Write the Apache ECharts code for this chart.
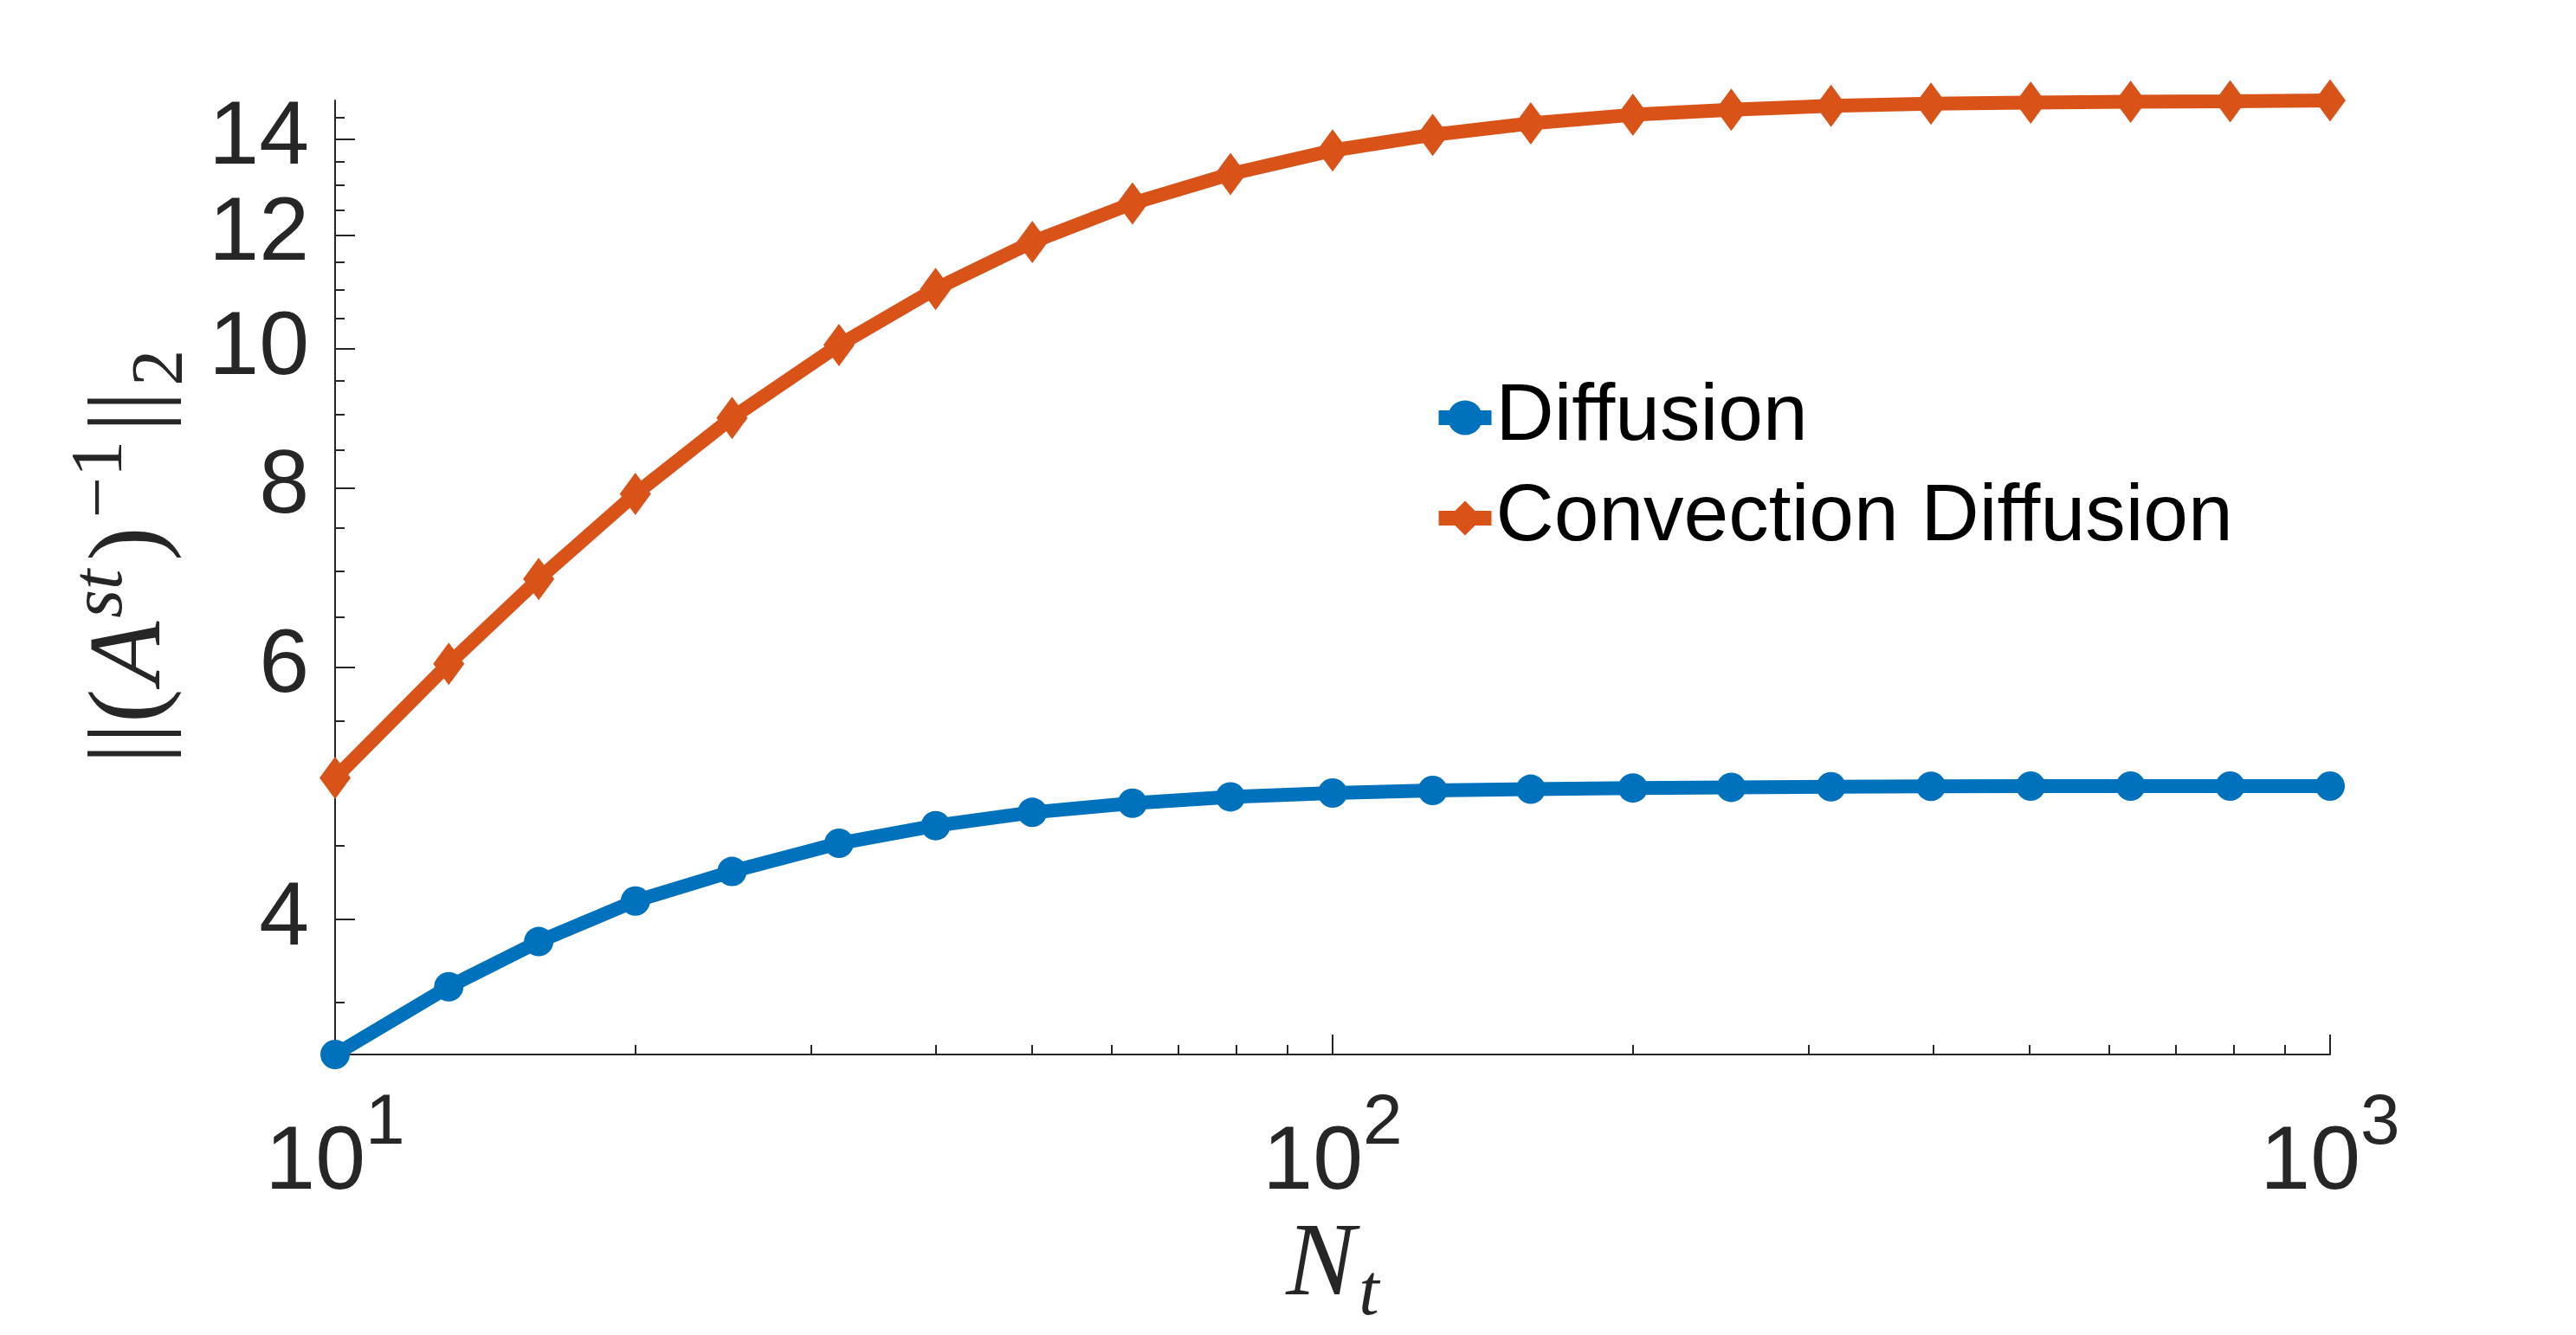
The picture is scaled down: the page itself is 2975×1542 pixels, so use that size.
<!DOCTYPE html>
<html>
<head>
<meta charset="utf-8">
<script src="https://cdn.jsdelivr.net/npm/echarts@6.0.0/dist/echarts.min.js"></script>
<style>
html, body { margin: 0; padding: 0; background: #fff; }
#chart { width: 2975px; height: 1542px; }
</style>
</head>
<body>
<div id="chart"></div>
<script>
// Nt values (round(logspace(1,3,21)))
var nt = [10, 13, 16, 20, 25, 32, 40, 50, 63, 79, 100, 126, 158, 200, 251, 316, 398, 501, 631, 794, 1000];
// ||(A^st)^-1||_2
var diffusion = [3.22, 3.59, 3.86, 4.12, 4.32, 4.52, 4.65, 4.75, 4.82, 4.87, 4.90, 4.92, 4.93, 4.94, 4.945, 4.95, 4.953, 4.955, 4.955, 4.955, 4.955];
var convDiffusion = [5.02, 6.03, 6.91, 7.92, 8.95, 10.06, 11.01, 11.87, 12.63, 13.24, 13.75, 14.10, 14.36, 14.56, 14.68, 14.77, 14.82, 14.85, 14.87, 14.88, 14.90];
var seriesNames = ['Diffusion', 'Convection Diffusion'];
// tick values
var xMajorTicks = [10, 100, 1000];
var xMinorTicks = [20, 30, 40, 50, 60, 70, 80, 90, 200, 300, 400, 500, 600, 700, 800, 900];
var yMajorTicks = [4, 6, 8, 10, 12, 14];
var yMinorTicks = [3.5, 4.5, 5, 5.5, 6.5, 7, 7.5, 8.5, 9, 9.5, 10.5, 11, 11.5, 12.5, 13, 13.5, 14.5];

var axisColor = '#262626';
var sans = '"Liberation Sans", Arial, sans-serif';
var serif = '"Liberation Serif", "Times New Roman", serif';

function pairs(xs, ys) {
	var out = [];
	for (var i = 0; i < xs.length; i++) {
		out.push([xs[i], ys[i]]);
	}
	return out;
}

var yMin = Math.min.apply(null, diffusion);
var yMax = Math.max.apply(null, convDiffusion);

var mychart = echarts.init(document.getElementById('chart'));

var option = {
	animation: false,
	backgroundColor: '#fff',
	grid: {
		left: 387,
		right: 284,
		top: 116,
		bottom: 324,
		outerBoundsMode: 'none'
	},
	legend: {
		data: seriesNames,
		orient: 'vertical',
		left: 1653,
		top: 436,
		padding: 0,
		itemWidth: 61,
		itemHeight: 50,
		itemGap: 23,
		lineStyle: { width: 17 },
		textStyle: {
			fontFamily: sans,
			fontSize: 93,
			lineHeight: 92,
			color: '#000'
		}
	},
	xAxis: [{
		type: 'log',
		logBase: 10,
		min: 10,
		max: 1000,
		position: 'bottom',
		name: '{i|N}{sub|t}',
		nameLocation: 'middle',
		nameGap: 170,
		nameTextStyle: {
			rich: {
				i: { fontFamily: serif, fontStyle: 'italic', fontSize: 120, lineHeight: 150, color: axisColor },
				sub: { fontFamily: serif, fontStyle: 'italic', fontSize: 84, lineHeight: 96, verticalAlign: 'bottom', padding: [0, 0, 0, 4], color: axisColor }
			}
		},
		axisLine: { show: true, lineStyle: { color: axisColor, width: 2 } },
		axisTick: { show: true, inside: true, length: 23, customValues: xMajorTicks, lineStyle: { color: axisColor, width: 2 } },
		axisLabel: {
			customValues: xMajorTicks,
			margin: 39,
			formatter: function (v) {
				var e = Math.round(Math.log(v) / Math.LN10);
				return '{b|10}{s|' + e + '}';
			},
			rich: {
				b: { fontFamily: sans, fontSize: 104, lineHeight: 175, color: axisColor },
				s: { fontFamily: sans, fontSize: 82, lineHeight: 82, verticalAlign: 'top', color: axisColor }
			}
		},
		splitLine: { show: false }
	}, {
		// minor ticks only
		type: 'log',
		logBase: 10,
		min: 10,
		max: 1000,
		position: 'bottom',
		axisLine: { show: false },
		axisTick: { show: true, inside: true, length: 11, customValues: xMinorTicks, lineStyle: { color: axisColor, width: 2 } },
		axisLabel: { show: false },
		splitLine: { show: false }
	}],
	yAxis: [{
		type: 'log',
		logBase: 10,
		min: yMin,
		max: yMax,
		position: 'left',
		name: '{n|||(}{i|A}{supi|st}{n|)}{sup|\u22121}{n|||}{sub|2}',
		nameLocation: 'middle',
		nameGap: 150,
		nameTextStyle: {
			padding: [0, 0, 0, 42],
			rich: {
				n: { fontFamily: serif, fontSize: 118, lineHeight: 154, padding: [0, 6, 0, 6], color: axisColor },
				i: { fontFamily: serif, fontStyle: 'italic', fontSize: 118, lineHeight: 154, color: axisColor },
				supi: { fontFamily: serif, fontStyle: 'italic', fontSize: 84, lineHeight: 84, verticalAlign: 'top', padding: [0, 4, 0, 4], color: axisColor },
				sup: { fontFamily: serif, fontSize: 84, lineHeight: 84, verticalAlign: 'top', padding: [0, 4, 0, 4], color: axisColor },
				sub: { fontFamily: serif, fontSize: 84, lineHeight: 100, verticalAlign: 'bottom', color: axisColor }
			}
		},
		axisLine: { show: true, lineStyle: { color: axisColor, width: 2 } },
		axisTick: { show: true, inside: true, length: 23, customValues: yMajorTicks, lineStyle: { color: axisColor, width: 2 } },
		axisLabel: {
			customValues: yMajorTicks,
			margin: 30,
			fontFamily: sans,
			fontSize: 104,
			color: axisColor,
			padding: [8, 0, 0, 0],
			formatter: function (v) { return String(Math.round(v)); }
		},
		splitLine: { show: false }
	}, {
		type: 'log',
		logBase: 10,
		min: yMin,
		max: yMax,
		position: 'left',
		axisLine: { show: false },
		axisTick: { show: true, inside: true, length: 11, customValues: yMinorTicks, lineStyle: { color: axisColor, width: 2 } },
		axisLabel: { show: false },
		splitLine: { show: false }
	}],
	series: [{
		name: seriesNames[0],
		type: 'line',
		data: pairs(nt, diffusion),
		symbol: 'circle',
		symbolSize: 34,
		showSymbol: true,
		color: '#0072BD',
		lineStyle: { width: 16, color: '#0072BD' },
		itemStyle: { color: '#0072BD' }
	}, {
		name: seriesNames[1],
		type: 'line',
		data: pairs(nt, convDiffusion),
		symbol: 'diamond',
		symbolSize: [36, 49],
		showSymbol: true,
		color: '#D95319',
		lineStyle: { width: 16, color: '#D95319' },
		itemStyle: { color: '#D95319' }
	}]
};

mychart.setOption(option);
</script>
</body>
</html>
